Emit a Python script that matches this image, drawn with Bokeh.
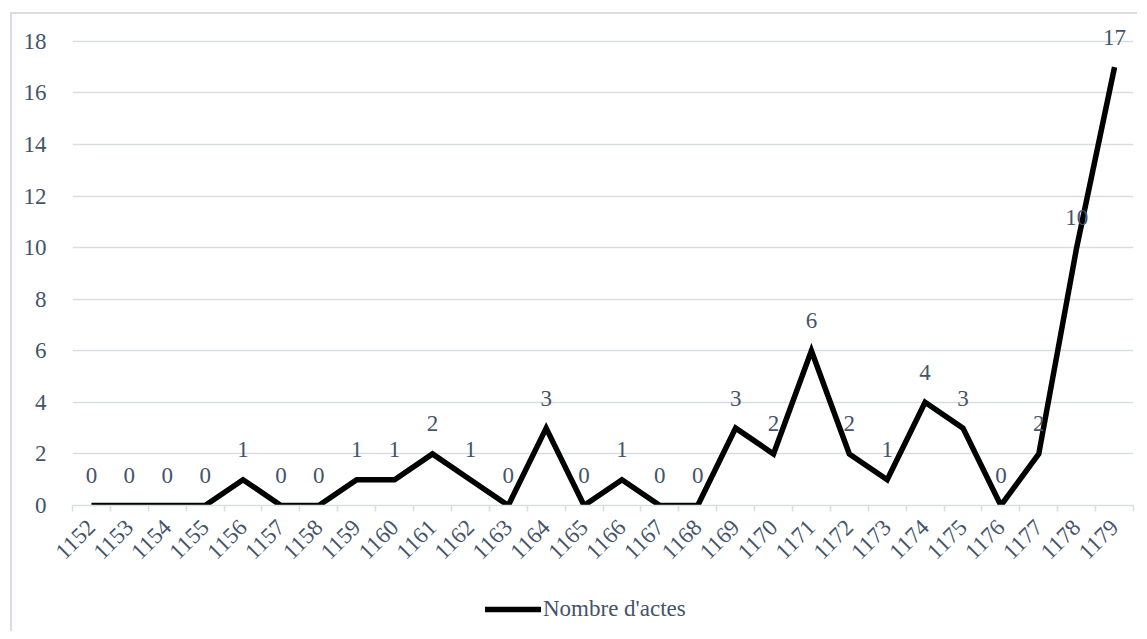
from bokeh.plotting import figure
from bokeh.layouts import column
from bokeh.models import ColumnDataSource, FixedTicker, Legend, LegendItem, LabelSet, Range1d
from bokeh.embed import file_html
from bokeh.resources import INLINE
import math

years = list(range(1152, 1180))
counts = [0, 0, 0, 0, 1, 0, 0, 1, 1, 2, 1, 0, 3, 0, 1, 0, 0, 3, 2, 6, 2, 1, 4, 3, 0, 2, 10, 17]
series_name = "Nombre d'actes"
y_ticks = [0, 2, 4, 6, 8, 10, 12, 14, 16, 18]

FONT = "Liberation Serif"
FS = "23px"
TXT = "#44546A"
GRID = "#d9dde3"

src = ColumnDataSource(dict(x=years, y=counts, lab=[str(c) for c in counts]))

p = figure(width=1125, height=571, output_backend="svg", toolbar_location=None,
           x_range=Range1d(years[0] - 0.5, years[-1] + 0.5), y_range=Range1d(0, 19),
           min_border_left=60, min_border_right=4, min_border_top=1, min_border_bottom=80)
p.outline_line_color = None
p.background_fill_color = "white"

r = p.line("x", "y", source=src, line_color="black", line_width=5.5, line_join="miter")

labels = LabelSet(x="x", y="y", text="lab", source=src, text_align="center", text_baseline="middle",
                  y_offset=30, text_font=FONT, text_font_size=FS, text_color=TXT)
p.add_layout(labels)

p.xaxis.ticker = FixedTicker(ticks=years, minor_ticks=[y - 0.5 for y in years] + [years[-1] + 0.5])
p.xaxis.major_label_orientation = math.pi / 4
p.xaxis.major_tick_out = 0
p.xaxis.major_tick_in = 0
p.xaxis.minor_tick_out = 6
p.xaxis.minor_tick_in = 0
p.xaxis.minor_tick_line_color = GRID
p.xaxis.minor_tick_line_width = 1.5
p.xaxis.axis_line_color = GRID
p.xaxis.axis_line_width = 1.5
p.xaxis.major_label_text_font = FONT
p.xaxis.major_label_text_font_size = FS
p.xaxis.major_label_text_color = TXT
p.xaxis.major_label_standoff = 12

p.yaxis.ticker = FixedTicker(ticks=y_ticks)
p.yaxis.axis_line_color = None
p.yaxis.major_tick_line_color = None
p.yaxis.minor_tick_line_color = None
p.yaxis.major_label_text_font = FONT
p.yaxis.major_label_text_font_size = FS
p.yaxis.major_label_text_color = TXT
p.yaxis.major_label_standoff = 20

p.xgrid.grid_line_color = None
p.ygrid.grid_line_color = GRID
p.ygrid.grid_line_width = 1.5

# legend strip below the chart (its line renderer lies outside the strip's visible range)
lg = figure(width=1125, height=46, output_backend="svg", toolbar_location=None,
            x_range=Range1d(0, 1), y_range=Range1d(0, 1), x_axis_type=None, y_axis_type=None,
            min_border_left=0, min_border_right=0, min_border_top=0, min_border_bottom=0)
lg.outline_line_color = None
lg.grid.visible = False
lr = lg.line("x", "y", source=src, line_color="black", line_width=5.5, line_cap="round")

legend = Legend(items=[LegendItem(label=series_name, renderers=[lr])], location=(413, 9),
                orientation="horizontal", border_line_color=None, background_fill_alpha=0,
                label_text_font=FONT, label_text_font_size=FS, label_text_color=TXT,
                glyph_width=56, glyph_height=20, label_standoff=2, padding=0, margin=0)
lg.add_layout(legend, "center")

layout = column(p, lg, spacing=0,
                styles={"border-left": "2px solid #d9dde3", "border-top": "2px solid #d9dde3",
                        "margin-left": "10px", "margin-top": "12px"})

open("out.html", "w").write(file_html(layout, INLINE))
